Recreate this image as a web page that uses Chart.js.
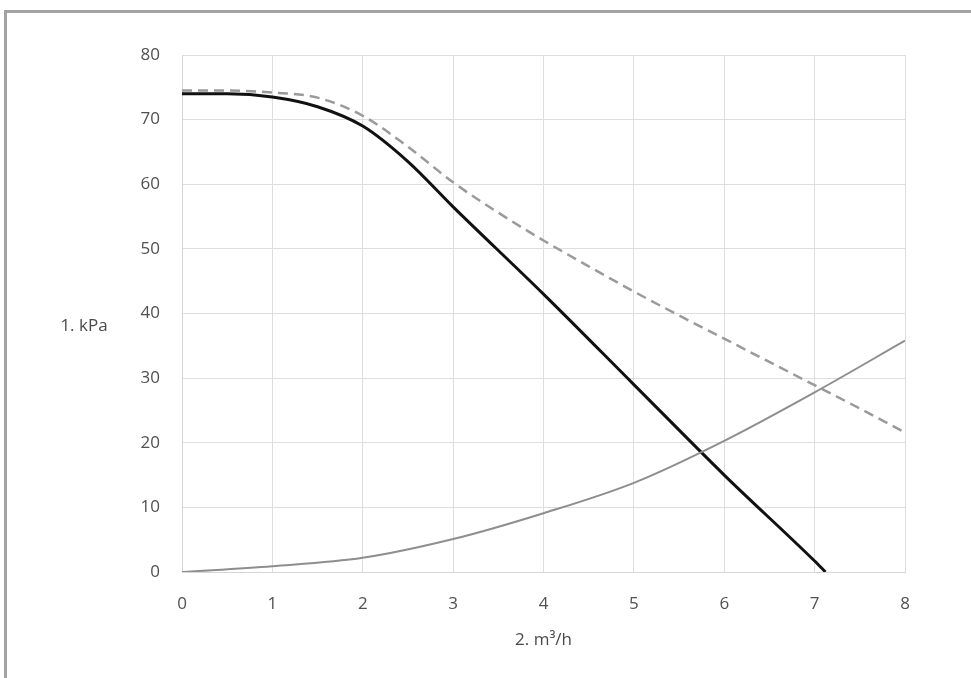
<!DOCTYPE html>
<html>
<head>
<meta charset="utf-8">
<script src="https://cdn.jsdelivr.net/npm/chart.js@4.4.1/dist/chart.umd.min.js"></script>
<style>
  html, body { margin: 0; padding: 0; background: #fff; }
  #wrap { position: relative; width: 971px; height: 678px; overflow: hidden; }
  #frame {
    position: absolute; left: 4px; top: 10px; width: 1000px; height: 700px;
    border-top: 3px solid #a3a3a3; border-left: 3px solid #a3a3a3;
  }
  #pumpChart { position: absolute; left: 0; top: 0; }
</style>
</head>
<body>
<div id="wrap">
  <div id="frame"></div>
  <canvas id="pumpChart" width="971" height="678"></canvas>
</div>
<script>
// pump curve (solid black)
const pumpFlow = [0, 0.5, 1, 1.5, 2, 2.5, 3, 4, 5, 6, 7, 7.12];
const pumpHead = [74, 74, 73.5, 72, 69, 63.5, 56.5, 43, 29, 15, 1.7, 0];

// max curve (dashed grey)
const maxFlow = [0, 0.5, 1, 1.5, 2, 2.5, 3, 3.5, 4, 4.5, 5, 5.5, 6, 6.5, 7, 7.5, 8];
const maxHead = [74.5, 74.5, 74.2, 73.4, 70.6, 65.8, 60.3, 55.6, 51.3, 47.3, 43.4, 39.7, 36.1, 32.5, 28.9, 25.3, 21.6];

// system curve (thin grey)
const systemFlow = [0, 1, 2, 3, 4, 5, 6, 7, 8];
const systemHead = [0, 0.9, 2.2, 5.1, 9.1, 13.8, 20.3, 27.8, 35.8];

const xTicks = [0, 1, 2, 3, 4, 5, 6, 7, 8];
const yTicks = [0, 10, 20, 30, 40, 50, 60, 70, 80];

const yLabel = '1. kPa';
const xLabel = '2. m³/h';

const toPoints = (xs, ys) => xs.map((x, i) => ({ x: x, y: ys[i] }));

const tickFont = { family: 'Open Sans', size: 17 };

// horizontal y-axis caption on the left
const yCaption = {
    id: 'yCaption',
    afterDraw(chart) {
        const c = chart.ctx;
        c.save();
        c.font = '17px "Open Sans"';
        c.fillStyle = '#4a4a4a';
        c.textAlign = 'center';
        c.textBaseline = 'middle';
        c.fillText(yLabel, 84, 326);
        c.restore();
    }
};

const ctx = document.getElementById('pumpChart').getContext('2d');
const pumpChart = new Chart(ctx, {
    type: 'line',
    data: {
        datasets: [
            {
                data: toPoints(systemFlow, systemHead),
                borderColor: '#8e8e8e',
                borderWidth: 2,
                pointRadius: 0,
                cubicInterpolationMode: 'monotone'
            },
            {
                data: toPoints(maxFlow, maxHead),
                borderColor: '#9a9a9a',
                borderWidth: 2.5,
                borderDash: [10, 6],
                pointRadius: 0,
                cubicInterpolationMode: 'monotone'
            },
            {
                data: toPoints(pumpFlow, pumpHead),
                borderColor: '#111',
                borderWidth: 3,
                pointRadius: 0,
                cubicInterpolationMode: 'monotone'
            }
        ]
    },
    options: {
        responsive: false,
        animation: false,
        layout: { padding: { left: 0, right: 66, top: 55, bottom: 0 } },
        plugins: {
            legend: { display: false },
            tooltip: { enabled: false }
        },
        scales: {
            x: {
                type: 'linear',
                min: 0,
                max: 8,
                afterFit: s => { s.height = 106; },
                afterBuildTicks: s => { s.ticks = xTicks.map(v => ({ value: v })); },
                ticks: { color: '#505050', font: tickFont, padding: 22 },
                grid: { color: '#dedede', lineWidth: 1, drawTicks: false },
                border: { color: '#d6d6d6' },
                title: {
                    display: true,
                    text: xLabel,
                    color: '#4a4a4a',
                    font: { family: 'Open Sans', size: 17 },
                    padding: { top: 0, bottom: 28 }
                }
            },
            y: {
                min: 0,
                max: 80,
                afterFit: s => { s.width = 182; },
                afterBuildTicks: s => { s.ticks = yTicks.map(v => ({ value: v })); },
                ticks: { color: '#505050', font: tickFont, padding: 22 },
                grid: { color: '#dedede', lineWidth: 1, drawTicks: false },
                border: { color: '#d6d6d6' }
            }
        }
    },
    plugins: [yCaption]
});
</script>
</body>
</html>
